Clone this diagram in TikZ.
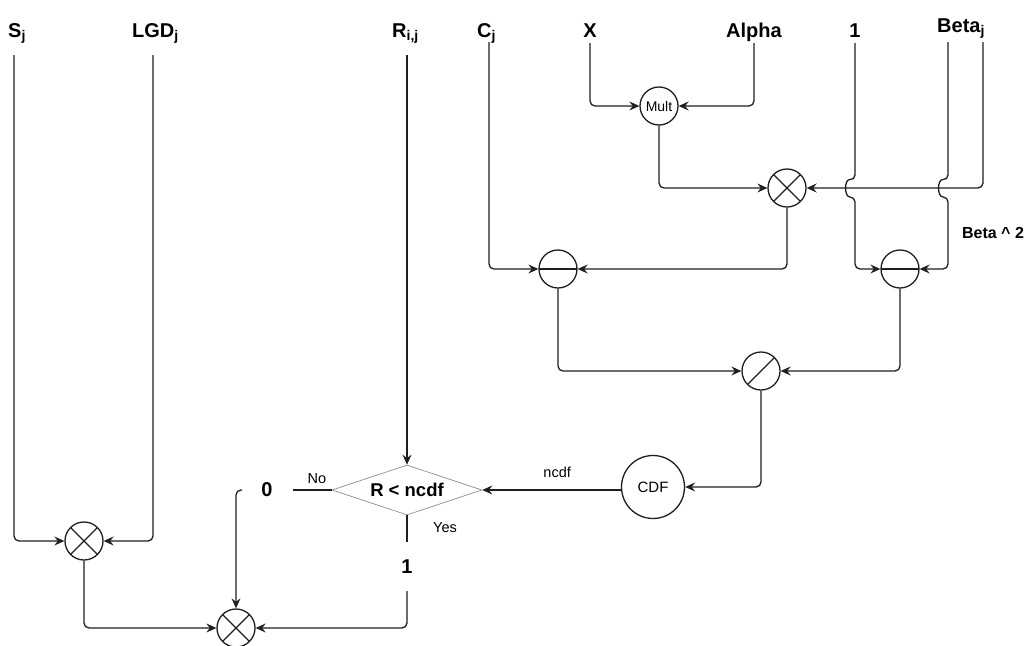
\documentclass[tikz,border=0pt]{standalone}
\usepackage{fontspec}
\setmainfont{Liberation Sans}
\usetikzlibrary{arrows.meta,shapes.geometric,calc}

\begin{document}
\begin{tikzpicture}[x=1pt,y=-1pt,
  ink/.style={draw=black!88, line width=1.3pt},
  wire/.style={ink, rounded corners=5pt, -{Stealth[length=10pt,width=9pt,inset=3.5pt]}},
  plainwire/.style={ink, rounded corners=5pt},
  op/.style={circle, ink, minimum size=38pt, inner sep=0pt},
  timesop/.style={op, path picture={
      \draw[ink] (path picture bounding box.north west) -- (path picture bounding box.south east)
                 (path picture bounding box.north east) -- (path picture bounding box.south west);}},
  minusop/.style={op, path picture={
      \draw[ink] (path picture bounding box.west) -- (path picture bounding box.east);}},
  divop/.style={op, path picture={
      \draw[ink] (path picture bounding box.south west) -- (path picture bounding box.north east);}},
  biglbl/.style={font=\bfseries\fontsize{20}{22}\selectfont, inner sep=0pt},
  smalllbl/.style={font=\fontsize{14.5}{16}\selectfont, inner sep=0pt},
  decision/.style={diamond, draw=black!45, line width=0.7pt, minimum width=150pt,
      minimum height=50pt, aspect=3, inner sep=0pt,
      font=\bfseries\fontsize{18.5}{20}\selectfont},
]
\useasboundingbox (0,0) rectangle (1027,645);

% input variables
\node[biglbl, anchor=base west] (lS)   at (8,37)   {S\textsubscript{j}};
\node[biglbl, anchor=base west] (lLGD) at (132,37) {LGD\textsubscript{j}};
\node[biglbl, anchor=base west] (lR)   at (392,37) {R\textsubscript{i,j}};
\node[biglbl, anchor=base west] (lC)   at (477,37) {C\textsubscript{j}};
\node[biglbl, anchor=base]      (lX)   at (590,37) {X};
\node[biglbl, anchor=base]      (lA)   at (754,37) {Alpha};
\node[biglbl, anchor=base]      (lOne) at (855,37) {1};
\node[biglbl, anchor=base west] (lB)   at (937,32) {Beta\textsubscript{j}};

% where the input wires leave their labels
\coordinate (sTop)   at (14,55);
\coordinate (lgdTop) at (153,55);
\coordinate (rTop)   at (407,55);
\coordinate (cTop)   at (489,42);
\coordinate (xTop)   at (590,43);
\coordinate (aTop)   at (754,43);
\coordinate (oneTop) at (855,43);
\coordinate (bTopL)  at (948,42);
\coordinate (bTopR)  at (983,42);

% operators
\node[op, font=\fontsize{14}{15}\selectfont] (M) at (659,106) {Mult};
\node[timesop] (T)  at (787,188) {};
\node[minusop] (Lm) at (558,269) {};
\node[minusop] (Rm) at (900,269) {};
\node[divop]   (D)  at (761,371) {};
\node[op, minimum size=63pt, font=\fontsize{15}{17}\selectfont] (cdf) at (653,487) {CDF};
\node[decision] (dec) at (407,490) {R < ncdf};
\node[biglbl] (zero) at (267,490) {0};
\node[biglbl] (one)  at (407,567) {1};
\node[timesop] (m1) at (84,541) {};
\node[timesop] (m3) at (236,628) {};

% alpha * X
\draw[wire] (xTop) |- (M.west);
\draw[wire] (aTop) |- (M.east);
\draw[wire] (M.south) |- (T.west);
\draw[wire] (bTopR) |- (T.east);

% numerator and denominator, hopping over the Beta wire
\draw[wire] (cTop) |- (Lm.west);
\draw[wire] (T.south) |- (Lm.east);
\draw[wire] (oneTop) -- ([yshift=8pt]oneTop |- T.center)
   .. controls +(-11,-1) and +(-11,0) .. ([yshift=-9pt]oneTop |- T.center) |- (Rm.west);
\draw[wire] (bTopL) -- ([yshift=8pt]bTopL |- T.center)
   .. controls +(-11,-1) and +(-11,0) .. ([yshift=-9pt]bTopL |- T.center) |- (Rm.east);
\node[font=\bfseries\fontsize{16}{18}\selectfont, inner sep=0pt] (b2) at (993,233) {Beta \^{} 2};

% ratio and cumulative distribution
\draw[wire] (Lm.south) |- (D.west);
\draw[wire] (Rm.south) |- (D.east);
\draw[wire] (D.south) |- (cdf.east);
\draw[wire] (cdf.west |- dec.east) -- node[smalllbl, above=12pt, pos=0.46] {ncdf} (dec.east);
\draw[wire] (rTop) -- (dec.north);

% decision outcomes
\draw[plainwire] (dec.west) -- ([xshift=20pt]zero.east);
\node[smalllbl] (no) at (317,479) {No};
\draw[plainwire] (dec.south) -- ([yshift=18pt]one.north);
\node[smalllbl] (yes) at (445,528) {Yes};

% exposure and final product
\draw[wire] (sTop) |- (m1.west);
\draw[wire] (lgdTop) |- (m1.east);
\draw[wire] (m1.south) |- (m3.west);
\draw[wire] ([xshift=-19pt]zero.west) -| (m3.north);
\draw[wire] ([yshift=-17pt]one.south) |- (m3.east);
\end{tikzpicture}
\end{document}
